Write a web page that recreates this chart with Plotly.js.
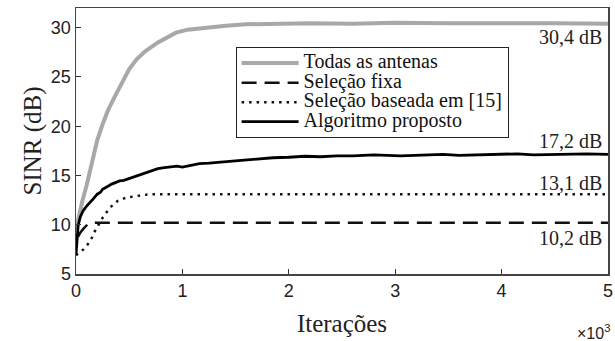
<!DOCTYPE html>
<html>
<head>
<meta charset="utf-8">
<script src="https://cdn.plot.ly/plotly-3.0.1.min.js"></script>
<style>html,body{margin:0;padding:0;background:#fff;}#chart{width:615px;height:341px;}</style>
</head>
<body>
<div id="chart"></div>
<script>
// x in thousands of iterations
const xTodas = [0, 0.03, 0.06, 0.1, 0.15, 0.2, 0.25, 0.3, 0.35, 0.4, 0.45, 0.5, 0.57, 0.65, 0.77, 0.85, 0.94, 1.05, 1.2, 1.41, 1.6, 1.88, 2.2, 2.6, 3.0, 3.5, 4.0, 4.5, 5.0];
const yTodas = [9.5, 11.0, 12.4, 14.0, 16.5, 18.6, 20.2, 21.6, 22.7, 23.8, 24.9, 25.8, 26.8, 27.6, 28.5, 29.0, 29.5, 29.8, 30.0, 30.2, 30.35, 30.4, 30.45, 30.4, 30.5, 30.45, 30.5, 30.45, 30.4];

const xFixa = [0.02, 0.04, 0.066, 0.09, 0.11, 0.14, 0.18, 0.25, 0.5, 1.0, 2.0, 3.0, 4.0, 5.0];
const yFixa = [8.8, 9.2, 9.55, 9.85, 10.05, 10.15, 10.2, 10.2, 10.2, 10.2, 10.2, 10.2, 10.2, 10.2];

const xBaseada = [0, 0.035, 0.07, 0.11, 0.15, 0.18, 0.25, 0.32, 0.39, 0.47, 0.54, 0.62, 0.71, 1.0, 1.5, 2.0, 2.5, 3.0, 3.5, 4.0, 4.5, 5.0];
const yBaseada = [6.9, 7.2, 7.5, 8.0, 8.7, 9.4, 10.7, 11.75, 12.4, 12.75, 12.9, 13.0, 13.1, 13.1, 13.1, 13.1, 13.1, 13.1, 13.1, 13.1, 13.1, 13.1];

const xProposto = [0, 0.01, 0.02, 0.04, 0.066, 0.1, 0.13, 0.16, 0.2, 0.23, 0.25, 0.28, 0.3, 0.33, 0.35, 0.38, 0.41, 0.45, 0.5, 0.54, 0.57, 0.61, 0.65, 0.7, 0.77, 0.83, 0.9, 0.95, 1.0, 1.08, 1.16, 1.25, 1.3, 1.4, 1.5, 1.6, 1.7, 1.85, 2.0, 2.15, 2.3, 2.45, 2.6, 2.8, 3.05, 3.2, 3.3, 3.45, 3.6, 3.8, 4.0, 4.15, 4.3, 4.45, 4.6, 4.8, 5.0];
const yProposto = [7.0, 8.8, 9.9, 10.8, 11.4, 11.9, 12.2, 12.6, 13.1, 13.3, 13.6, 13.75, 13.9, 14.1, 14.2, 14.3, 14.45, 14.5, 14.7, 14.8, 14.95, 15.1, 15.3, 15.45, 15.7, 15.8, 15.9, 15.95, 15.85, 16.0, 16.2, 16.25, 16.3, 16.4, 16.5, 16.6, 16.7, 16.8, 16.85, 16.95, 16.9, 17.0, 17.0, 17.1, 17.0, 17.05, 17.1, 17.15, 17.05, 17.1, 17.15, 17.2, 17.1, 17.15, 17.2, 17.2, 17.15];

const seriesNames = ["Todas as antenas", "Seleção fixa", "Seleção baseada em [15]", "Algoritmo proposto"];
const endLabels = ["30,4 dB", "17,2 dB", "13,1 dB", "10,2 dB"];
const endLabelY = [29.1, 18.5, 14.25, 8.65];
const xTicks = [0, 1, 2, 3, 4, 5];
const yTicks = [5, 10, 15, 20, 25, 30];

const SERIF = "'Liberation Serif', 'Times New Roman', serif";
const SANS = "'Liberation Sans', Arial, sans-serif";
const legendName = n => '<span style="font-size:20px">' + n + '</span>';

const traces = [
  {x: xTodas, y: yTodas, name: legendName(seriesNames[0]), mode: "lines", line: {color: "#a8a8a8", width: 4}},
  {x: xFixa, y: yFixa, name: legendName(seriesNames[1]), mode: "lines", line: {color: "#111", width: 2.5, dash: "15px,8px"}},
  {x: xBaseada, y: yBaseada, name: legendName(seriesNames[2]), mode: "lines", line: {color: "#111", width: 2.5, dash: "2.5px,5px"}},
  {x: xProposto, y: yProposto, name: legendName(seriesNames[3]), mode: "lines", line: {color: "#000", width: 2.8}}
];

const annotations = endLabels.map((t, i) => ({
  text: t, x: 4.96, y: endLabelY[i], xref: "x", yref: "y",
  xanchor: "right", yanchor: "middle", showarrow: false,
  font: {family: SERIF, size: 20, color: "#222"}
}));
annotations.push({
  text: "×10<sup>3</sup>", xref: "paper", yref: "paper", x: 1.0, y: -0.2,
  xanchor: "left", yanchor: "middle", showarrow: false, xshift: -33, yshift: -5,
  font: {family: SANS, size: 16, color: "#222"}
});

const layout = {
  width: 615, height: 341,
  margin: {l: 76, r: 7, t: 8, b: 67},
  paper_bgcolor: "#fff", plot_bgcolor: "#fff",
  font: {family: SERIF},
  showlegend: true,
  legend: {
    x: 0.300, y: 0.852, xanchor: "left", yanchor: "top",
    bgcolor: "#fff", bordercolor: "#222", borderwidth: 1,
    font: {family: SERIF, size: 12.7, color: "#111"},
    itemwidth: 57, tracegroupgap: 0
  },
  xaxis: {
    range: [0, 5], tickvals: xTicks, ticktext: xTicks.map(String),
    ticks: "inside", ticklen: 5, tickcolor: "#333", mirror: true,
    showline: true, linecolor: "#444", linewidth: 1.5, showgrid: false, zeroline: false,
    tickfont: {family: SANS, size: 18, color: "#222"},
    title: {text: "Iterações", font: {family: SERIF, size: 25, color: "#222"}, standoff: 14}
  },
  yaxis: {
    range: [5, 32], tickvals: yTicks, ticktext: yTicks.map(String),
    ticks: "inside", ticklen: 5, tickcolor: "#333", mirror: true,
    showline: true, linecolor: "#444", linewidth: 1.5, showgrid: false, zeroline: false,
    tickfont: {family: SANS, size: 18, color: "#222"},
    title: {text: "SINR (dB)", font: {family: SERIF, size: 25, color: "#222"}, standoff: 2}
  },
  annotations: annotations
};

Plotly.newPlot("chart", traces, layout, {displayModeBar: false, staticPlot: true});
</script>
</body>
</html>
